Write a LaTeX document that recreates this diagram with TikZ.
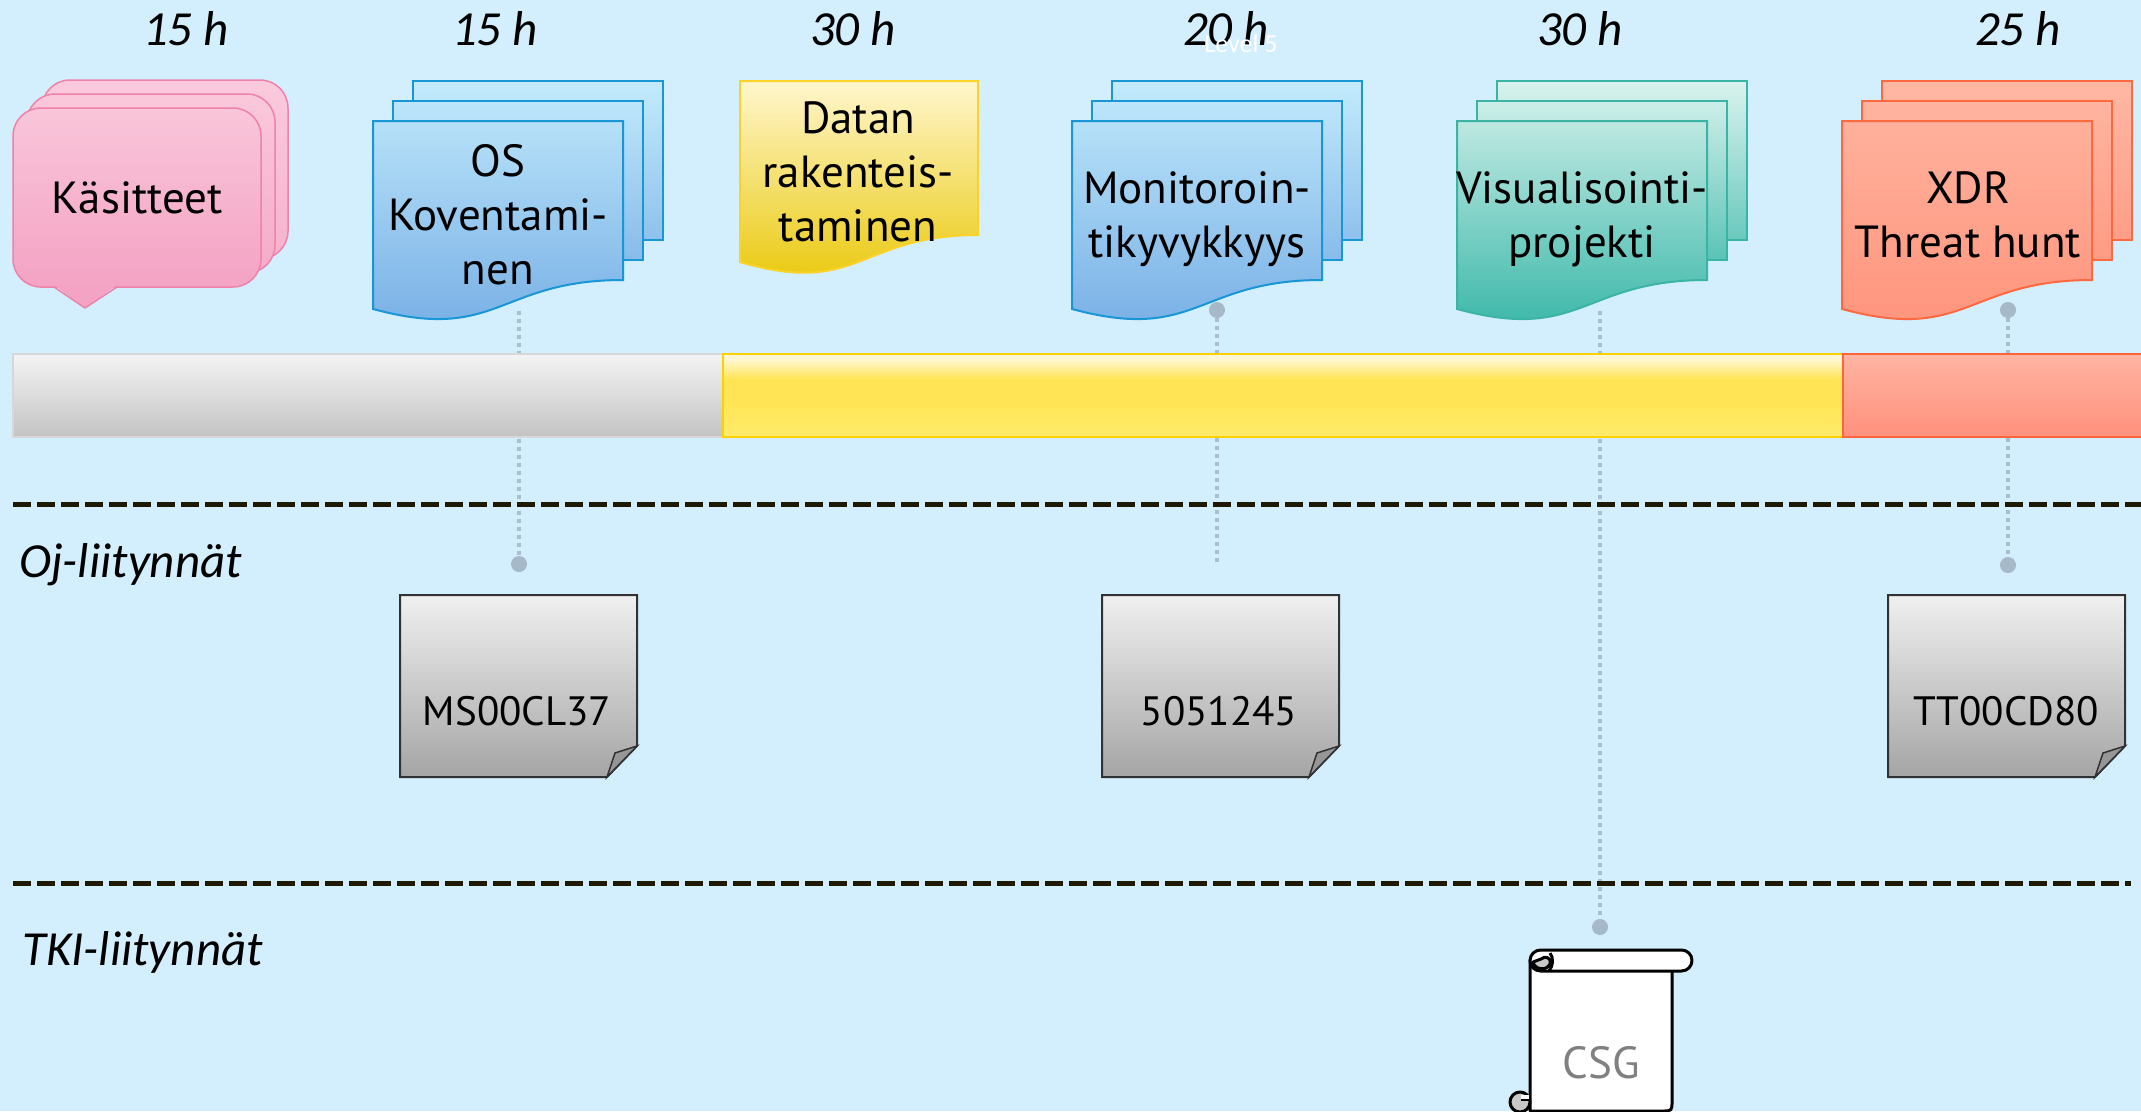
\documentclass[tikz,border=0pt]{standalone}
\usepackage{fontspec}
\setmainfont{PT Sans}
\newfontfamily\calfont{Carlito}
\pgfdeclarelayer{back}
\pgfdeclarelayer{conn}
\pgfsetlayers{back,conn,main}
\definecolor{bgc}{RGB}{211,238,253}
\definecolor{pinkT}{RGB}{250,202,220}
\definecolor{pinkB}{RGB}{244,163,196}
\definecolor{pinkD}{RGB}{238,130,170}
\definecolor{blueT}{RGB}{195,235,252}
\definecolor{blueB}{RGB}{116,172,228}
\definecolor{blueD}{RGB}{24,150,214}
\definecolor{tealT}{RGB}{218,243,238}
\definecolor{tealB}{RGB}{50,180,165}
\definecolor{tealD}{RGB}{60,180,165}
\definecolor{salT}{RGB}{255,183,163}
\definecolor{salB}{RGB}{255,146,122}
\definecolor{salD}{RGB}{255,105,65}
\definecolor{yelT}{RGB}{255,246,205}
\definecolor{yelM}{RGB}{250,214,0}
\definecolor{yelB}{RGB}{232,198,0}
\definecolor{yelD}{RGB}{250,210,40}
\definecolor{barGT}{RGB}{244,244,244}
\definecolor{barGB}{RGB}{195,195,195}
\definecolor{barGD}{RGB}{215,215,215}
\definecolor{barYT}{RGB}{255,247,212}
\definecolor{barYM}{RGB}{255,229,85}
\definecolor{barYB}{RGB}{255,236,108}
\definecolor{barYD}{RGB}{255,208,0}
\definecolor{barST}{RGB}{255,180,162}
\definecolor{barSB}{RGB}{255,145,125}
\definecolor{barSD}{RGB}{255,100,60}
\definecolor{dashc}{RGB}{30,25,0}
\definecolor{dotc}{RGB}{170,190,205}
\definecolor{dotf}{RGB}{165,185,200}
\definecolor{noteT}{RGB}{240,240,240}
\definecolor{noteB}{RGB}{165,165,165}
\definecolor{noteD}{RGB}{50,50,50}
\definecolor{foldc}{RGB}{150,150,150}
\definecolor{csgc}{RGB}{128,128,128}
\definecolor{curlc}{RGB}{200,200,200}
\pgfdeclareverticalshading{ybarshade}{100bp}{color(0bp)=(barYB); color(25bp)=(barYB); color(47bp)=(barYM); color(60bp)=(barYM); color(72bp)=(barYT); color(100bp)=(barYT)}
% multi-document stack: #1 = left x of front sheet, #2 = colour prefix
\newcommand\mdocstack[2]{%
  \draw[line width=2, draw=#2D, top color=#2T, bottom color=#2B!67!#2T]
    (#1+40,81) rectangle (#1+290,240);
  \draw[line width=2, draw=#2D, top color=#2B!8!#2T, bottom color=#2B!76!#2T]
    (#1+20,101) rectangle (#1+270,260);
  \draw[line width=2, draw=#2D, top color=#2B!17!#2T, bottom color=#2B]
    (#1,121) -- (#1+250,121) -- (#1+250,280)
    .. controls (#1+125,280) and (#1+125,343) .. (#1,309) -- cycle;
}
% grey note with folded corner: #1 = left x
\newcommand\mnote[1]{%
  \draw[line width=2, draw=noteD, top color=noteT, bottom color=noteB]
    (#1,595) -- (#1+237,595) -- (#1+237,746) -- (#1+207,777) -- (#1,777) -- cycle;
  \draw[line width=1.5, draw=noteD, fill=foldc]
    (#1+207,777) -- (#1+215,753) -- (#1+237,746) -- cycle;
}
\begin{document}
\begin{tikzpicture}[x=1pt,y=-1pt,
  lbl/.style={font=\fontsize{45}{54}\selectfont, align=center, inner sep=0},
  hrs/.style={font=\calfont\itshape\fontsize{49}{58}\selectfont, anchor=base, inner sep=0},
  sect/.style={font=\calfont\itshape\fontsize{49}{58}\selectfont, anchor=base west, inner sep=0},
  notetxt/.style={font=\fontsize{41}{48}\selectfont, anchor=base, inner sep=0},
  dotnode/.style={circle, fill=dotf, minimum size=16, inner sep=0},
  dotline/.style={draw=dotc, line width=3.5, dash pattern=on 3.5pt off 4.5pt},
  dashline/.style={draw=dashc, line width=5, dash pattern=on 18pt off 6pt},
  scrollline/.style={draw=black, line width=3, line join=round}]
\useasboundingbox (0,0) rectangle (2141,1111);
\begin{pgfonlayer}{back}
  \fill[bgc] (0,0) rectangle (2141,1111);
\end{pgfonlayer}

% ---- timeline bar
\draw[line width=1.5, draw=barGD, top color=barGT, bottom color=barGB] (13,354) rectangle (723,437);
\draw[line width=2, draw=barYD, shading=ybarshade] (723,354) rectangle (1843,437);
\draw[line width=2, draw=barSD, top color=barST, bottom color=barSB] (1843,354) rectangle (2150,437);

% ---- section separators
\draw[dashline] (13,504) -- (2141,504);
\draw[dashline] (13,883) -- (2131,883);

% ---- hour labels
\node[hrs] (h1) at (186,45) {15 h};
\node[hrs] (h2) at (495,45) {15 h};
\node[hrs] (h3) at (853,45) {30 h};
\node[hrs] (h4) at (1226,45) {20 h};
\node[hrs] (h5) at (1580,45) {30 h};
\node[hrs] (h6) at (2018,45) {25 h};
\node[font=\calfont\fontsize{26}{30}\selectfont, text=white, anchor=base, inner sep=0] (lvl) at (1241,52) {Level 5};

% ---- Käsitteet callout stack
\draw[line width=1.5, draw=pinkD, top color=pinkT, bottom color=pinkB!60!pinkT, rounded corners=28] (42,80) rectangle (288,259);
\draw[line width=1.5, draw=pinkD, top color=pinkB!6!pinkT, bottom color=pinkB!80!pinkT, rounded corners=28] (27,94) rectangle (275,273);
\draw[line width=1.5, draw=pinkD, top color=pinkB!12!pinkT, bottom color=pinkB, rounded corners=28] (13,108) rectangle (261,287);
\fill[pinkB] (54,285) -- (117,285) -- (85,308) -- cycle;
\draw[line width=1.5, draw=pinkD, line join=round] (54,287) -- (85,308) -- (117,287);
\node[lbl, anchor=base] (kas) at (137,213) {Käsitteet};

% ---- documents
\mdocstack{373}{blue}
\node[lbl] (os) at (498,215) {OS\\Koventami-\\nen};

\draw[line width=2, draw=yelD, top color=yelT, middle color=yelM, bottom color=yelB]
  (740,81) -- (978,81) -- (978,235)
  .. controls (859,235) and (859,297) .. (740,262) -- cycle;
\node[lbl] (dat) at (858,172) {Datan\\rakenteis-\\taminen};

\mdocstack{1072}{blue}
\node[lbl] (mon) at (1197,219) {Monitoroin-\\tikyvykkyys};

\mdocstack{1457}{teal}
\node[lbl] (vis) at (1582,219) {Visualisointi-\\projekti};

\mdocstack{1842}{sal}
\node[lbl] (xdr) at (1968,215) {XDR\\Threat hunt};

% ---- Oj notes
\mnote{400}
\node[notetxt] (ms) at (517,725) {MS00CL37};
\mnote{1102}
\node[notetxt] (n505) at (1219,725) {5051245};
\mnote{1888}
\node[notetxt] (tt) at (2006,725) {TT00CD80};

\node[sect] (oj) at (19,577) {Oj-liitynnät};
\node[sect] (tki) at (22,965) {TKI-liitynnät};

% ---- CSG scroll
\draw[scrollline, fill=white]
  (1530,960) -- (1530,1111) -- (1662,1111) .. controls (1672,1111) .. (1672,1101) -- (1672,971);
\draw[scrollline, fill=white, rounded corners=10.5] (1530,950) rectangle (1692,971);
\draw[scrollline, fill=curlc] (1533,962) .. controls (1534,969) and (1546,972) .. (1550,964)
  .. controls (1552,958) and (1545,955) .. (1541,959) -- cycle;
\draw[scrollline] (1550,953) .. controls (1554,958) and (1553,966) .. (1549,971);
\draw[scrollline, fill=curlc] (1520,1102) circle[radius=10];
\fill[white] (1521,1095) rectangle (1528.5,1100);
\draw[line width=2] (1521,1100) -- (1528.5,1100);
\node[lbl, anchor=base, text=csgc] (csg) at (1601,1078) {CSG};

% ---- connector end points
\coordinate (osTop) at (519,311);
\node[dotnode] (osDot) at (519,564) {};
\node[dotnode] (monDot) at (1217,310) {};
\coordinate (monEnd) at (1217,563);
\coordinate (visTop) at (1600,311);
\node[dotnode] (visDot) at (1600,927) {};
\node[dotnode] (xdrTop) at (2008,310) {};
\node[dotnode] (xdrDot) at (2008,565) {};

\begin{pgfonlayer}{conn}
  \draw[dotline] (osTop) -- (osDot.center);
  \draw[dotline] (monDot.center) -- (monEnd);
  \draw[dotline] (visTop) -- (visDot.center);
  \draw[dotline] (xdrTop.center) -- (xdrDot.center);
\end{pgfonlayer}
\end{tikzpicture}
\end{document}
